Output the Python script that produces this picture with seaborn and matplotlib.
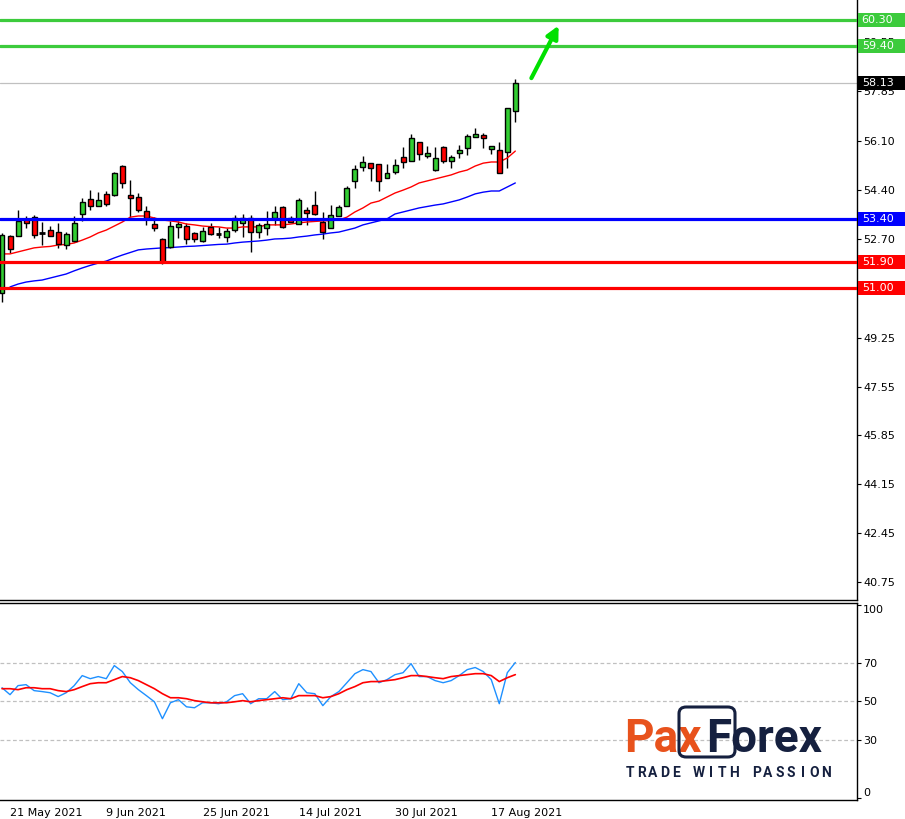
import numpy as np
import pandas as pd
import matplotlib
matplotlib.use("Agg")
import matplotlib.pyplot as plt
import matplotlib.transforms as mtransforms
from matplotlib.patches import Rectangle, FancyBboxPatch, FancyArrowPatch
import seaborn as sns

sns.set_style("white")
plt.rcParams["font.family"] = ["DejaVu Sans"]

# ---------------- data (daily bars 20 May 2021 .. 20 Aug 2021) ----------------
opens = [50.81, 52.79, 52.79, 53.39, 53.45, 52.90, 53.00, 52.93, 52.48, 52.62,
         53.56, 54.08, 53.84, 54.26, 54.22, 55.23, 54.22, 54.15, 53.66, 53.21,
         52.69, 52.41, 53.11, 53.14, 52.90, 52.62, 53.11, 52.86, 52.76, 53.00,
         53.25, 53.42, 52.93, 53.07, 53.42, 53.80, 53.42, 53.21, 53.70, 53.87,
         53.28, 53.07, 53.49, 53.84, 54.71, 55.19, 55.33, 55.30, 54.81, 55.02,
         55.54, 55.40, 56.07, 55.58, 55.09, 55.89, 55.40, 55.68, 55.86, 56.24,
         56.31, 55.82, 55.79, 55.72, 57.14]
highs = [52.90, 52.83, 53.70, 53.49, 53.52, 53.28, 53.14, 53.25, 52.93, 53.49,
         54.12, 54.39, 54.32, 54.36, 55.02, 55.26, 54.74, 54.29, 53.84, 53.45,
         52.72, 53.32, 53.32, 53.25, 52.93, 53.11, 53.25, 53.11, 53.07, 53.52,
         53.56, 53.52, 53.25, 53.66, 53.84, 53.84, 53.49, 54.12, 53.80, 54.36,
         53.63, 53.87, 53.87, 54.53, 55.26, 55.58, 55.33, 55.30, 55.30, 55.47,
         55.89, 56.34, 56.07, 55.93, 55.89, 55.93, 55.61, 55.96, 56.34, 56.55,
         56.38, 55.93, 56.07, 57.25, 58.26]
lows = [50.50, 52.20, 52.79, 53.07, 52.72, 52.48, 52.79, 52.38, 52.34, 52.58,
        53.32, 53.70, 53.84, 53.84, 54.19, 54.46, 53.45, 53.63, 53.18, 52.97,
        51.82, 52.38, 52.72, 52.51, 52.58, 52.58, 52.83, 52.72, 52.58, 52.93,
        52.76, 52.24, 52.72, 52.83, 53.18, 53.07, 53.28, 53.21, 53.18, 53.52,
        52.69, 53.07, 53.49, 53.84, 54.46, 55.06, 54.71, 54.36, 54.81, 54.95,
        55.16, 55.40, 55.44, 55.51, 55.06, 55.33, 55.16, 55.51, 55.61, 56.24,
        55.86, 55.65, 54.99, 55.16, 56.76]
closes = [52.83, 52.34, 53.32, 53.25, 52.83, 52.90, 52.79, 52.51, 52.86, 53.25,
          53.98, 53.84, 54.05, 53.91, 54.99, 54.64, 54.12, 53.70, 53.42, 53.07,
          51.89, 53.14, 53.21, 52.69, 52.69, 52.97, 52.86, 52.86, 52.97, 53.42,
          53.42, 52.93, 53.18, 53.21, 53.63, 53.11, 53.28, 54.05, 53.59, 53.56,
          52.93, 53.52, 53.80, 54.46, 55.13, 55.37, 55.16, 54.71, 54.99, 55.26,
          55.37, 56.20, 55.65, 55.68, 55.51, 55.40, 55.54, 55.79, 56.27, 56.34,
          56.20, 55.93, 54.99, 57.25, 58.13]
ma_fast = [52.17, 52.17, 52.24, 52.31, 52.38, 52.41, 52.43, 52.48, 52.50, 52.55,
           52.65, 52.76, 52.90, 53.00, 53.14, 53.28, 53.45, 53.49, 53.49, 53.42,
           53.35, 53.32, 53.28, 53.21, 53.18, 53.14, 53.12, 53.11, 53.07, 53.07,
           53.11, 53.11, 53.11, 53.18, 53.18, 53.18, 53.21, 53.25, 53.28, 53.30,
           53.32, 53.33, 53.35, 53.45, 53.63, 53.77, 53.94, 54.01, 54.15, 54.29,
           54.39, 54.50, 54.64, 54.71, 54.78, 54.85, 54.92, 55.02, 55.09, 55.23,
           55.33, 55.37, 55.37, 55.51, 55.75]
ma_slow = [np.nan, 51.02, 51.12, 51.19, 51.23, 51.26, 51.33, 51.40, 51.47, 51.58,
           51.68, 51.77, 51.85, 51.92, 52.03, 52.13, 52.22, 52.31, 52.34, 52.36,
           52.38, 52.39, 52.41, 52.43, 52.44, 52.46, 52.48, 52.50, 52.51, 52.55,
           52.58, 52.60, 52.62, 52.65, 52.69, 52.70, 52.72, 52.76, 52.79, 52.83,
           52.86, 52.90, 52.93, 53.00, 53.07, 53.18, 53.25, 53.32, 53.39, 53.56,
           53.63, 53.70, 53.77, 53.82, 53.87, 53.91, 53.98, 54.05, 54.15, 54.26,
           54.32, 54.36, 54.36, 54.50, 54.64]
rsi = [57.1, 53.5, 58.2, 58.7, 55.6, 55.1, 54.5, 52.5, 54.5, 58.2,
       63.4, 61.8, 62.9, 61.8, 68.6, 65.5, 59.7, 56.1, 53.0, 49.8,
       41.0, 49.3, 50.9, 47.2, 46.7, 49.3, 49.3, 48.8, 49.8, 53.0,
       54.0, 48.8, 51.4, 51.4, 55.1, 50.9, 51.4, 59.2, 54.5, 54.0,
       47.8, 52.5, 55.1, 59.7, 64.4, 66.5, 65.5, 59.7, 61.3, 63.9,
       64.9, 69.6, 62.9, 62.9, 60.8, 59.7, 60.8, 63.4, 66.5, 67.6,
       65.5, 61.3, 48.8, 64.9, 70.2]
rsi_signal = [56.6, 56.6, 56.1, 57.1, 57.1, 56.6, 56.6, 55.6, 55.1, 56.1,
              57.7, 59.2, 59.7, 59.7, 61.3, 62.9, 62.3, 60.8, 58.7, 56.6,
              54.0, 51.9, 51.9, 51.4, 50.4, 49.8, 49.3, 49.3, 49.3, 49.8,
              50.4, 49.8, 50.4, 50.9, 51.4, 51.9, 51.4, 53.0, 53.0, 53.0,
              51.9, 52.5, 54.0, 56.1, 57.7, 59.7, 60.3, 60.3, 60.8, 61.3,
              62.3, 63.4, 63.4, 62.9, 62.3, 61.8, 62.9, 63.4, 63.9, 64.4,
              64.4, 63.4, 60.3, 62.3, 63.9]

date_tick_bars = [1, 13, 25, 37, 49, 61]
date_tick_labels = ["21 May 2021", "9 Jun 2021", "25 Jun 2021",
                    "14 Jul 2021", "30 Jul 2021", "17 Aug 2021"]
price_ticks = [40.75, 42.45, 44.15, 45.85, 47.55, 49.25,
               52.70, 54.40, 56.10, 57.85, 59.55]
resistance_levels = [60.30, 59.40]
pivot_level = 53.40
support_levels = [51.90, 51.00]
last_price = 58.13
rsi_levels = [30, 50, 70]
rsi_ticks = [0, 30, 50, 70, 100]
arrow_from = (66.0, 58.29)   # (bar, price)
arrow_to = (69.4, 60.12)

df = pd.DataFrame({"bar": np.arange(len(opens)), "open": opens, "high": highs,
                   "low": lows, "close": closes, "ma_fast": ma_fast,
                   "ma_slow": ma_slow, "rsi": rsi, "rsi_signal": rsi_signal})

# ---------------- figure ----------------
W, H = 905, 819
fig = plt.figure(figsize=(W / 100, H / 100), dpi=100)
ax = fig.add_axes([0, (H - 600) / H, 857 / W, 600 / H])
ax2 = fig.add_axes([0, (H - 800) / H, 857 / W, 197 / H])

XMIN, XMAX = -0.25, 106.6
ax.set_xlim(XMIN, XMAX)
ax.set_ylim(40.12, 61.01)
ax2.set_xlim(XMIN, XMAX)
ax2.set_ylim(-1.2, 101.1)

GREEN_UP = "#32CD32"
LEVEL_GREEN = "#3CCB3C"
TICK_FS = 8

# current price line
ax.axhline(last_price, color="#C0C0C0", lw=0.9, zorder=1)

# candles
up = df[df.close > df.open]
dn = df[df.close < df.open]
dj = df[df.close == df.open]
ax.vlines(df.bar, df.low, df.high, color="black", lw=1.0, zorder=3)
ax.bar(up.bar, up.close - up.open, bottom=up.open, width=0.62,
       color=GREEN_UP, edgecolor="black", linewidth=1.0, zorder=4)
ax.bar(dn.bar, dn.close - dn.open, bottom=dn.open, width=0.62,
       color="#FF0000", edgecolor="black", linewidth=1.0, zorder=4)
ax.hlines(dj.close, dj.bar - 0.35, dj.bar + 0.35, color="black", lw=2.0, zorder=4)

# moving averages
sns.lineplot(data=df, x="bar", y="ma_fast", ax=ax, color="#FF0000", lw=1.0, zorder=3)
sns.lineplot(data=df.dropna(subset=["ma_slow"]), x="bar", y="ma_slow", ax=ax,
             color="#0000FF", lw=1.0, zorder=3)

# levels
for lv in resistance_levels:
    ax.axhline(lv, color=LEVEL_GREEN, lw=2.3, zorder=6)
ax.axhline(pivot_level, color="#0000FF", lw=2.3, zorder=6)
for lv in support_levels:
    ax.axhline(lv, color="#FF0000", lw=2.3, zorder=6)

# arrow
arr = FancyArrowPatch(arrow_from, arrow_to, arrowstyle="-|>", mutation_scale=18,
                      color="#00E000", lw=3.0, zorder=7, capstyle="round",
                      shrinkA=0, shrinkB=0)
ax.add_patch(arr)

# price axis on the right
ax.yaxis.tick_right()
ax.set_yticks(price_ticks)
ax.set_yticklabels([f"{v:.2f}" for v in price_ticks])
ax.tick_params(axis="y", direction="out", length=3, width=0.8, pad=1.5,
               labelsize=TICK_FS, colors="black")
ax.tick_params(axis="x", bottom=False, labelbottom=False)
ax.set_xlabel("")
ax.set_ylabel("")
for s in ["left", "top"]:
    ax.spines[s].set_visible(False)
for s in ["right", "bottom"]:
    ax.spines[s].set_color("black")
    ax.spines[s].set_linewidth(1.0)

# price label boxes
trans = mtransforms.blended_transform_factory(ax.transAxes, ax.transData)
box_h = 14 * (61.01 - 40.12) / 600
def price_box(val, fc):
    r = Rectangle((1.0015, val - box_h / 2), 0.07, box_h, transform=trans,
                  facecolor=fc, edgecolor="none", clip_on=False, zorder=10)
    ax.add_patch(r)
    ax.text(1.0055, val, f"{val:.2f}", transform=trans, ha="left", va="center",
            color="white", fontsize=TICK_FS, zorder=11, clip_on=False)
for lv in resistance_levels:
    price_box(lv, LEVEL_GREEN)
price_box(pivot_level, "#0000FF")
for lv in support_levels:
    price_box(lv, "#FF0000")
price_box(last_price, "#000000")

# ---------------- RSI panel ----------------
for lv in rsi_levels:
    ax2.axhline(lv, color="#C0C0C0", lw=0.9, ls=(0, (3, 2)), zorder=1)
sns.lineplot(data=df, x="bar", y="rsi", ax=ax2, color="#1E90FF", lw=1.0, zorder=3)
sns.lineplot(data=df, x="bar", y="rsi_signal", ax=ax2, color="#FF0000", lw=1.2, zorder=4)
ax2.yaxis.tick_right()
ax2.set_yticks(rsi_ticks)
ax2.set_yticklabels([str(v) for v in rsi_ticks])
ax2.tick_params(axis="y", direction="out", length=3, width=0.8, pad=1.5,
                labelsize=TICK_FS, colors="black")
ylabs = ax2.get_yticklabels()
ylabs[0].set_va("bottom")
ylabs[-1].set_va("top")
ax2.set_xticks(date_tick_bars)
ax2.set_xticklabels(date_tick_labels, ha="left")
ax2.tick_params(axis="x", direction="out", length=4, width=0.8, pad=1.5,
                labelsize=TICK_FS, colors="black")
ax2.set_xlabel("")
ax2.set_ylabel("")
ax2.spines["left"].set_visible(False)
for s in ["right", "bottom", "top"]:
    ax2.spines[s].set_color("black")
    ax2.spines[s].set_linewidth(1.0)

# ---------------- logo ----------------
ORANGE = "#E8521C"
NAVY = "#15203F"
bx0, bx1, by0, by1 = 679 / W, 735 / W, (H - 757) / H, (H - 707) / H
fig.patches.append(FancyBboxPatch((bx0, by0), bx1 - bx0, by1 - by0,
                                  boxstyle="round,pad=0,rounding_size=0.008",
                                  transform=fig.transFigure, facecolor="none",
                                  edgecolor=NAVY, lw=2.2, zorder=5))
base_y = (H - 752) / H
fig.text(702 / W, base_y, "Pax", ha="right", va="baseline", color=ORANGE,
         fontsize=33, fontweight="bold", family="Roboto")
fig.text(706 / W, base_y, "Forex", ha="left", va="baseline", color=NAVY,
         fontsize=33, fontweight="bold", family="Roboto")
slogan = "TRADE WITH PASSION"
pitch = 11.5
for k, ch in enumerate(slogan):
    fig.text((630 + pitch * k) / W, (H - 773) / H, ch, ha="center", va="center",
             color=NAVY, fontsize=10, fontweight="bold", family="Roboto")

fig.savefig("out.png", dpi=100)
